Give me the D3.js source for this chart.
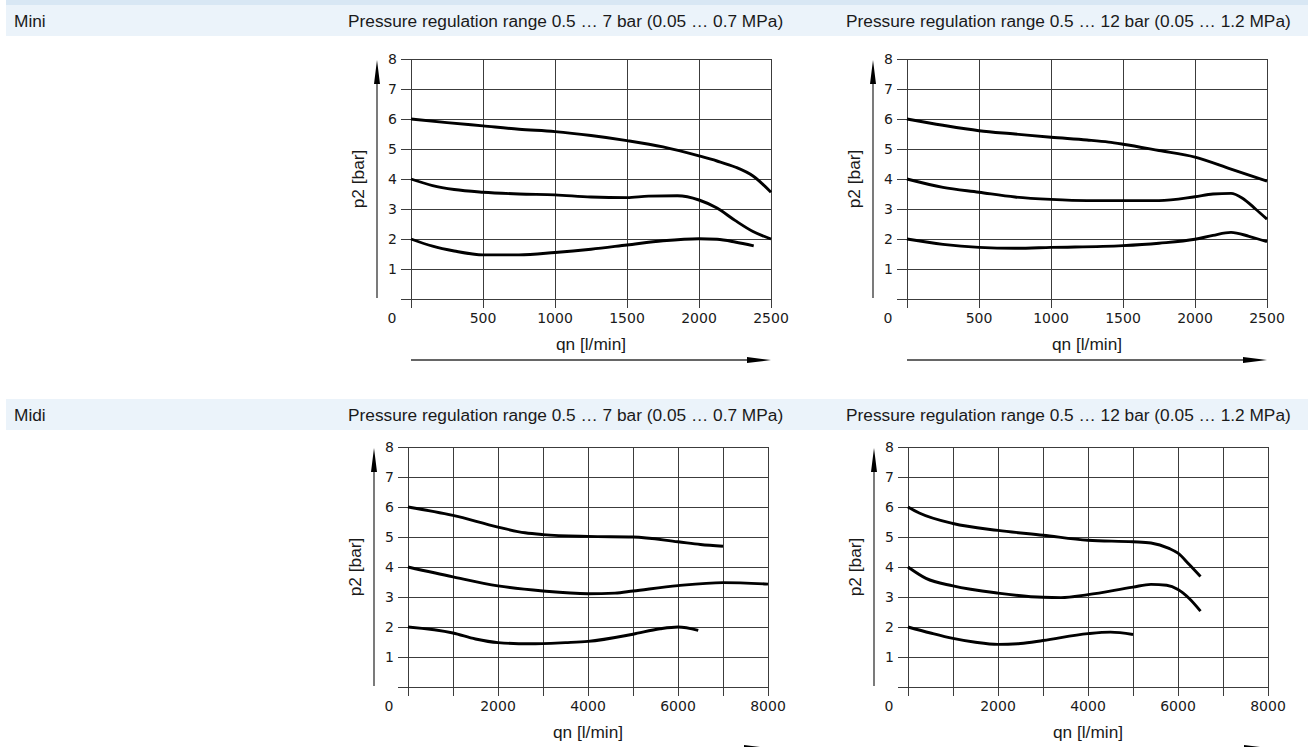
<!DOCTYPE html>
<html>
<head>
<meta charset="utf-8">
<script src="https://cdn.jsdelivr.net/npm/d3@7"></script>
<style>
  body { margin: 0; background: #fff; }
  svg { display: block; }
</style>
</head>
<body>
<svg id="chart" width="1308" height="747"></svg>
<script>
// rows and headings
var rowNames = ['Mini', 'Midi']
var rangeTitles = [
  'Pressure regulation range 0.5 … 7 bar (0.05 … 0.7 MPa)',
  'Pressure regulation range 0.5 … 12 bar (0.05 … 1.2 MPa)'
]

// axis ticks
var pTicks = [0, 1, 2, 3, 4, 5, 6, 7, 8]
var miniFlowTicks = [0, 500, 1000, 1500, 2000, 2500]
var midiFlowTicks = [0, 1000, 2000, 3000, 4000, 5000, 6000, 7000, 8000]
var miniFlowLabels = [500, 1000, 1500, 2000, 2500]
var midiFlowLabels = [2000, 4000, 6000, 8000]

// curves: [qn l/min, p2 bar]
var mini7p6 = [[0, 6.0], [250, 5.88], [500, 5.77], [750, 5.66], [1000, 5.58], [1250, 5.45], [1500, 5.28], [1750, 5.07], [2000, 4.77], [2125, 4.6], [2250, 4.4], [2375, 4.1], [2500, 3.56]]
var mini7p4 = [[0, 4.0], [150, 3.78], [300, 3.65], [500, 3.56], [750, 3.5], [1000, 3.47], [1250, 3.4], [1500, 3.38], [1650, 3.43], [1850, 3.44], [2000, 3.3], [2125, 3.03], [2250, 2.62], [2375, 2.25], [2500, 2.0]]
var mini7p2 = [[0, 2.0], [150, 1.76], [300, 1.6], [500, 1.47], [750, 1.47], [1000, 1.55], [1250, 1.66], [1500, 1.8], [1750, 1.94], [2000, 2.01], [2125, 1.99], [2250, 1.9], [2380, 1.77]]

var mini12p6 = [[0, 6.0], [250, 5.79], [500, 5.61], [750, 5.5], [1000, 5.39], [1250, 5.3], [1400, 5.23], [1500, 5.16], [1750, 4.95], [2000, 4.73], [2250, 4.33], [2500, 3.93]]
var mini12p4 = [[0, 4.0], [250, 3.72], [500, 3.56], [750, 3.4], [1000, 3.32], [1250, 3.28], [1500, 3.28], [1750, 3.28], [2000, 3.41], [2125, 3.5], [2250, 3.52], [2330, 3.36], [2420, 3.0], [2500, 2.66]]
var mini12p2 = [[0, 2.0], [250, 1.82], [500, 1.72], [750, 1.69], [1000, 1.72], [1500, 1.78], [1750, 1.86], [2000, 1.99], [2125, 2.12], [2250, 2.22], [2375, 2.09], [2500, 1.91]]

var midi7p6 = [[0, 6.0], [1000, 5.72], [2000, 5.33], [2600, 5.14], [3000, 5.08], [4000, 5.02], [5000, 5.0], [6000, 4.84], [6500, 4.75], [7000, 4.69]]
var midi7p4 = [[0, 4.0], [1000, 3.67], [2000, 3.37], [3000, 3.2], [4000, 3.11], [4600, 3.13], [5000, 3.2], [6000, 3.38], [7000, 3.48], [8000, 3.43]]
var midi7p2 = [[0, 2.0], [1000, 1.8], [1500, 1.6], [2000, 1.48], [2700, 1.44], [3500, 1.48], [4000, 1.52], [5000, 1.76], [5600, 1.94], [6000, 2.0], [6450, 1.89]]

var midi12p6 = [[0, 6.0], [250, 5.8], [1000, 5.45], [2000, 5.22], [3000, 5.06], [4000, 4.89], [5000, 4.84], [5400, 4.8], [5800, 4.62], [6000, 4.46], [6250, 4.08], [6500, 3.68]]
var midi12p4 = [[0, 4.0], [400, 3.62], [1000, 3.37], [2000, 3.13], [3000, 2.99], [3400, 2.98], [4000, 3.08], [5000, 3.33], [5400, 3.42], [5750, 3.39], [6000, 3.25], [6250, 2.95], [6500, 2.53]]
var midi12p2 = [[0, 2.0], [500, 1.8], [1000, 1.62], [1500, 1.49], [2000, 1.42], [2500, 1.45], [3000, 1.55], [4000, 1.78], [4500, 1.83], [5000, 1.75]]

var textFont = "'Liberation Sans', Arial, sans-serif"
var tickFont = "'DejaVu Sans', sans-serif"
var gridColor = '#3c3c3c'

var svg = d3.select('#chart')

// heading bands
svg.append('rect').attr('x', 6).attr('y', 0).attr('width', 1302).attr('height', 5).attr('fill', '#d8e7f4')
var bandTops = [5, 399]
bandTops.forEach(function (top, i) {
  svg.append('rect').attr('x', 6).attr('y', top).attr('width', 1302).attr('height', 31).attr('fill', '#ebf3fa')
  svg.append('text').text(rowNames[i])
    .attr('x', 14).attr('y', top + 22)
    .attr('font-family', textFont).attr('font-size', 17.3).attr('fill', '#1a1a1a')
  svg.append('text').text(rangeTitles[0])
    .attr('x', 348).attr('y', top + 22)
    .attr('font-family', textFont).attr('font-size', 17.3).attr('fill', '#1a1a1a')
  svg.append('text').text(rangeTitles[1])
    .attr('x', 846).attr('y', top + 22)
    .attr('font-family', textFont).attr('font-size', 17.3).attr('fill', '#1a1a1a')
})

/**
 * @param {*} x0 left pixel of the plot area
 * @param {*} y0 top pixel of the plot area
 * @param {*} flowMax largest qn on the axis
 * @param {*} flowTicks grid positions on qn
 * @param {*} flowLabels labelled qn ticks
 * @param {*} curves list of [qn, p2] arrays
 */
function drawChart (x0, y0, flowMax, flowTicks, flowLabels, curves) {
  var w = 360
  var h = 240
  var x = d3.scaleLinear().domain([0, flowMax]).range([x0, x0 + w])
  var y = d3.scaleLinear().domain([0, 8]).range([y0 + h, y0])
  var g = svg.append('g')

  // horizontal grid, reaching past the left edge as ticks
  g.selectAll('.hgrid')
    .data(pTicks).enter()
    .append('line')
    .attr('x1', x(0) - 10).attr('x2', x(flowMax))
    .attr('y1', function (d) { return Math.round(y(d)) + 0.5 })
    .attr('y2', function (d) { return Math.round(y(d)) + 0.5 })
    .attr('stroke', gridColor).attr('stroke-width', 1)

  // vertical grid, reaching below the bottom as ticks
  g.selectAll('.vgrid')
    .data(flowTicks).enter()
    .append('line')
    .attr('x1', function (d) { return Math.round(x(d)) + 0.5 })
    .attr('x2', function (d) { return Math.round(x(d)) + 0.5 })
    .attr('y1', y(8)).attr('y2', y(0) + 9)
    .attr('stroke', gridColor).attr('stroke-width', 1)

  // p2 labels
  g.selectAll('.plabel')
    .data(pTicks.slice(1)).enter()
    .append('text')
    .text(function (d) { return d })
    .attr('x', x(0) - 14)
    .attr('y', function (d) { return y(d) + 5 })
    .attr('text-anchor', 'end')
    .attr('font-family', tickFont).attr('font-size', 14).attr('fill', '#1a1a1a')

  g.append('text').text('0')
    .attr('x', x(0) - 19).attr('y', y(0) + 24)
    .attr('text-anchor', 'middle')
    .attr('font-family', tickFont).attr('font-size', 14).attr('fill', '#1a1a1a')

  // qn labels
  g.selectAll('.qlabel')
    .data(flowLabels).enter()
    .append('text')
    .text(function (d) { return d })
    .attr('x', function (d) { return x(d) })
    .attr('y', y(0) + 24)
    .attr('text-anchor', 'middle')
    .attr('font-family', tickFont).attr('font-size', 14).attr('fill', '#1a1a1a')

  // axis titles
  g.append('text').text('qn [l/min]')
    .attr('x', x0 + w / 2).attr('y', y(0) + 51)
    .attr('text-anchor', 'middle')
    .attr('font-family', textFont).attr('font-size', 17.3).attr('fill', '#1a1a1a')

  g.append('text').text('p2 [bar]')
    .attr('transform', 'translate(' + (x0 - 47) + ',' + (y0 + h / 2) + ') rotate(-90)')
    .attr('text-anchor', 'middle')
    .attr('font-family', textFont).attr('font-size', 17.3).attr('fill', '#1a1a1a')

  // p2 arrow
  var ax = x0 - 34
  g.append('line')
    .attr('x1', ax).attr('x2', ax)
    .attr('y1', y(0) - 1).attr('y2', y(8) + 10)
    .attr('stroke', '#333').attr('stroke-width', 1.3)
  g.append('path')
    .attr('d', 'M' + ax + ',' + (y(8) + 1) + 'L' + (ax + 3) + ',' + (y(8) + 25) + 'L' + (ax - 3) + ',' + (y(8) + 25) + 'Z')
    .attr('fill', '#000')

  // qn arrow
  var ay = y(0) + 61
  g.append('line')
    .attr('x1', x(0)).attr('x2', x(flowMax) - 10)
    .attr('y1', ay).attr('y2', ay)
    .attr('stroke', '#333').attr('stroke-width', 1.3)
  g.append('path')
    .attr('d', 'M' + x(flowMax) + ',' + ay + 'L' + (x(flowMax) - 24) + ',' + (ay - 3) + 'L' + (x(flowMax) - 24) + ',' + (ay + 3) + 'Z')
    .attr('fill', '#000')

  // curves
  var line = d3.line()
    .x(function (d) { return x(d[0]) })
    .y(function (d) { return y(d[1]) })
    .curve(d3.curveMonotoneX)

  g.selectAll('.curve')
    .data(curves).enter()
    .append('path')
    .attr('d', line)
    .attr('fill', 'none')
    .attr('stroke', '#000')
    .attr('stroke-width', 2.9)
}

drawChart(411, 59, 2500, miniFlowTicks, miniFlowLabels, [mini7p6, mini7p4, mini7p2])
drawChart(907, 59, 2500, miniFlowTicks, miniFlowLabels, [mini12p6, mini12p4, mini12p2])
drawChart(408, 447, 8000, midiFlowTicks, midiFlowLabels, [midi7p6, midi7p4, midi7p2])
drawChart(908, 447, 8000, midiFlowTicks, midiFlowLabels, [midi12p6, midi12p4, midi12p2])
</script>
</body>
</html>
